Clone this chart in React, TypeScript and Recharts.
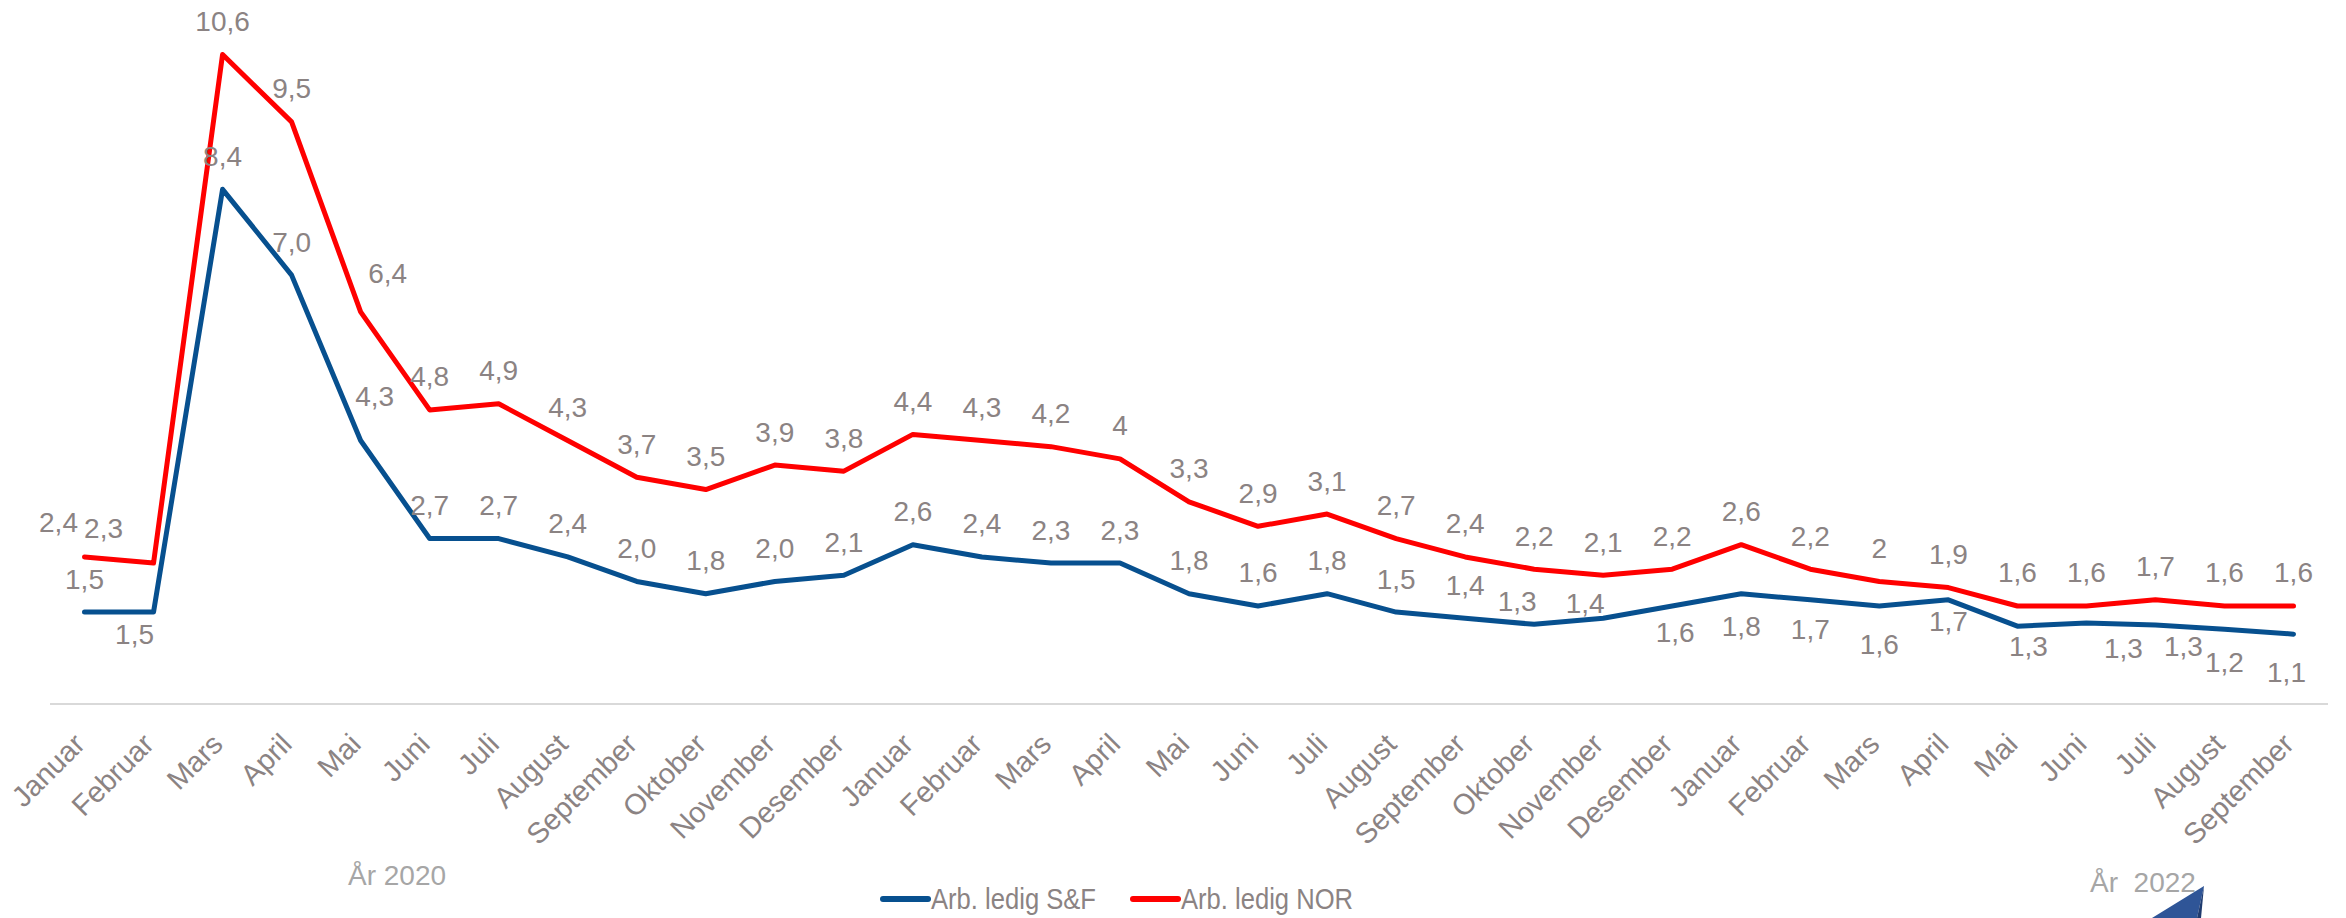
import React from 'react'
import { LineChart, Line, XAxis, YAxis, LabelList, Legend } from 'recharts'

const MONTHS = ['Januar', 'Februar', 'Mars', 'April', 'Mai', 'Juni', 'Juli', 'August', 'September', 'Oktober', 'November', 'Desember']
const YEAR_MONTHS: [number, number][] = [[2020, 12], [2021, 12], [2022, 9]]

// Arbeidsledige i prosent, S&F og landet
const SF = [1.5, 1.5, 8.4, 7.0, 4.3, 2.7, 2.7, 2.4, 2.0, 1.8, 2.0, 2.1, 2.6, 2.4, 2.3, 2.3, 1.8, 1.6, 1.8, 1.5, 1.4, 1.3, 1.4, 1.6, 1.8, 1.7, 1.6, 1.7, 1.27, 1.32, 1.29, 1.22, 1.14]
const NOR = [2.4, 2.3, 10.6, 9.5, 6.4, 4.8, 4.9, 4.3, 3.7, 3.5, 3.9, 3.8, 4.4, 4.3, 4.2, 4, 3.3, 2.9, 3.1, 2.7, 2.4, 2.2, 2.1, 2.2, 2.6, 2.2, 2, 1.9, 1.6, 1.6, 1.7, 1.6, 1.6]

const YEAR_NOTES = ['År 2020', 'År  2022']

const SF_NAME = 'Arb. ledig S&F'
const NOR_NAME = 'Arb. ledig NOR'
const SF_COLOR = '#07508f'
const NOR_COLOR = '#ff0000'
const TEXT = '#8b8383'
const FONT = '"Liberation Sans", Arial, sans-serif'

const categories = YEAR_MONTHS.flatMap(([year, n]) => MONTHS.slice(0, n).map((m) => `${m} ${year}`))
const data = categories.map((key, i) => ({ key, sf: SF[i], nor: NOR[i] }))

// label nudges (dx, dy of label centre from the point), default is straight above
const DEFAULT_NUDGE: [number, number] = [0, -33]
const SF_NUDGE: Record<number, [number, number]> = {
  1: [-19, 22], 4: [14, -44], 21: [-17, -23], 22: [-18, -15], 23: [3, 27], 24: [0, 33], 25: [0, 30],
  26: [0, 39], 27: [0, 22], 28: [11, 20], 29: [37, 25], 30: [28, 22], 31: [0, 33], 32: [-7, 38],
}
const NOR_NUDGE: Record<number, [number, number]> = { 0: [-26, -34], 1: [-50, -35], 4: [27, -38] }

const fmtSF = (v: number) => v.toFixed(1).replace('.', ',')
const fmtNOR = (v: number) => String(v).replace('.', ',')

const makeLabel = (nudges: Record<number, [number, number]>, fmt: (v: number) => string) => (props: any) => {
  const x = props.x ?? props.viewBox?.x
  const y = props.y ?? props.viewBox?.y
  if (x == null || y == null || props.value == null) return null
  const [dx, dy] = nudges[props.index] ?? DEFAULT_NUDGE
  return (
    <text x={x + dx} y={y + dy} textAnchor="middle" dominantBaseline="central" fill={TEXT} fontSize={28} fontFamily={FONT}>
      {fmt(Number(props.value))}
    </text>
  )
}

const MonthTick = ({ x, y, payload }: any) => {
  const tx = x + 2
  const ty = y + 42
  return (
    <text x={tx} y={ty} transform={`rotate(-45 ${tx} ${ty})`} textAnchor="end" fill={TEXT} fontSize={29} fontFamily={FONT}>
      {String(payload.value).split(' ')[0]}
    </text>
  )
}

const renderLegend = () => {
  const items = [
    { name: SF_NAME, color: SF_COLOR, x: 13, len: 165 },
    { name: NOR_NAME, color: NOR_COLOR, x: 263, len: 172 },
  ]
  return (
    <svg width={500} height={40}>
      {items.map((it) => (
        <g key={it.name}>
          <line x1={it.x} x2={it.x + 45} y1={21} y2={21} stroke={it.color} strokeWidth={6} strokeLinecap="round" />
          <text x={it.x + 48} y={31} fontSize={30} fontFamily={FONT} fill={TEXT} textLength={it.len} lengthAdjust="spacingAndGlyphs">
            {it.name}
          </text>
        </g>
      ))}
    </svg>
  )
}

export default function App() {
  return (
    <div style={{ position: 'absolute', left: 0, top: 0, width: 2346, height: 918, background: '#fff' }}>
      <LineChart width={2346} height={918} data={data} margin={{ top: 30, right: 18, bottom: 0, left: 50 }}>
        <XAxis
          dataKey="key"
          interval={0}
          height={214}
          padding={{ left: 34.5, right: 34.5 }}
          tickLine={false}
          tickSize={0}
          tickMargin={0}
          axisLine={{ stroke: '#d9d9d9', strokeWidth: 2 }}
          tick={<MonthTick />}
        />
        <YAxis hide domain={[0, 11]} />
        <Legend
          verticalAlign="middle"
          layout="horizontal"
          wrapperStyle={{ left: 870, top: 878, width: 500, height: 40 }}
          content={renderLegend}
        />
        <Line
          type="linear"
          dataKey="sf"
          name={SF_NAME}
          stroke={SF_COLOR}
          strokeWidth={5}
          strokeLinecap="round"
          strokeLinejoin="round"
          dot={false}
          activeDot={false}
          isAnimationActive={false}
        >
          <LabelList dataKey="sf" content={makeLabel(SF_NUDGE, fmtSF)} />
        </Line>
        <Line
          type="linear"
          dataKey="nor"
          name={NOR_NAME}
          stroke={NOR_COLOR}
          strokeWidth={5}
          strokeLinecap="round"
          strokeLinejoin="round"
          dot={false}
          activeDot={false}
          isAnimationActive={false}
        >
          <LabelList dataKey="nor" content={makeLabel(NOR_NUDGE, fmtNOR)} />
        </Line>
      </LineChart>
      <svg width={2346} height={918} style={{ position: 'absolute', left: 0, top: 0, pointerEvents: 'none' }}>
        <text x={348} y={885} fontSize={28} fontFamily={FONT} fill="#a6a6a6">{YEAR_NOTES[0]}</text>
        <text x={2090} y={892} fontSize={28} fontFamily={FONT} fill="#a6a6a6" style={{ whiteSpace: 'pre' }}>{YEAR_NOTES[1]}</text>
        <polygon points="2152,918 2204,886 2197,918" fill="#2f5597" />
        <polygon points="2197,918 2204,886 2201,918" fill="#1f3b6f" />
      </svg>
    </div>
  )
}
